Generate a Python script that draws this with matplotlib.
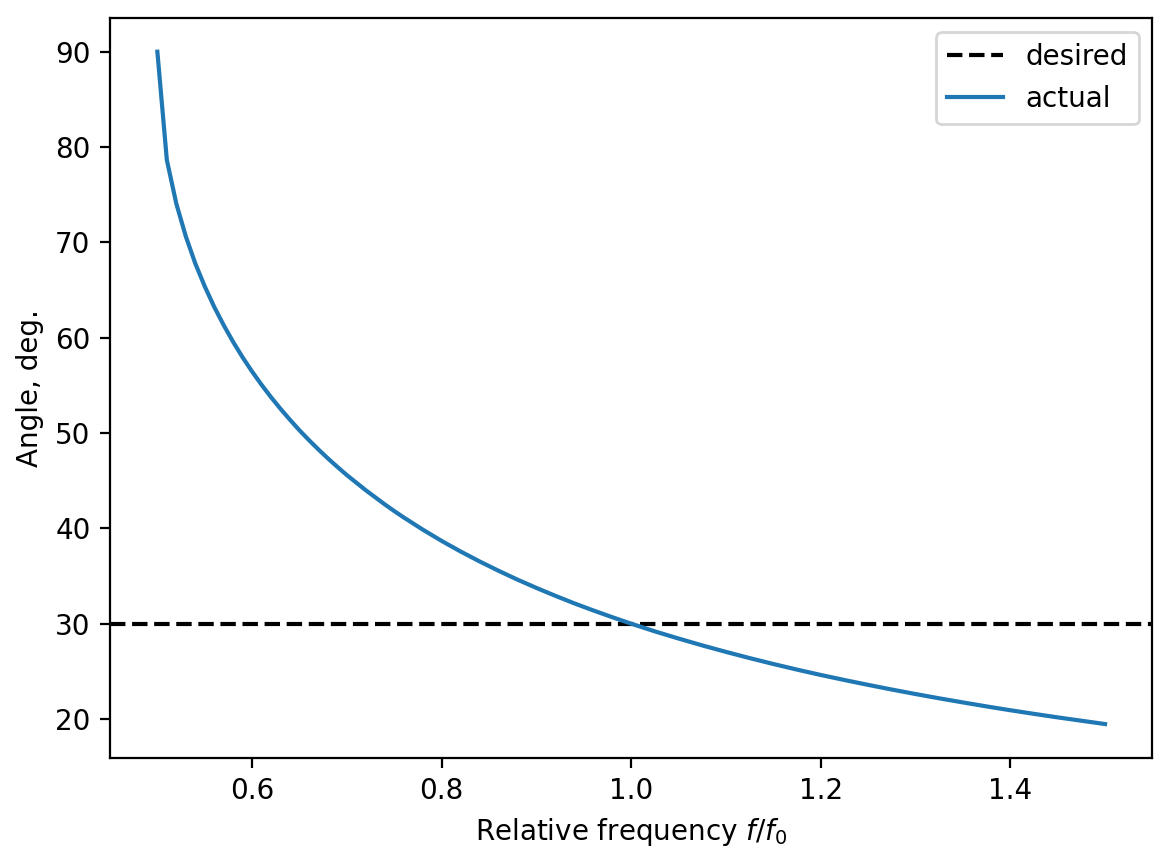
import matplotlib
matplotlib.use("Agg")
import matplotlib.pyplot as plt

# Valores
frecuencia = [0.50, 0.51, 0.52, 0.53, 0.54, 0.55, 0.56, 0.57, 0.58, 0.59,
              0.60, 0.61, 0.62, 0.63, 0.64, 0.65, 0.66, 0.67, 0.68, 0.69,
              0.70, 0.72, 0.74, 0.75, 0.76, 0.78, 0.80, 0.82, 0.84, 0.86,
              0.88, 0.90, 0.92, 0.94, 0.96, 0.98, 1.00, 1.025, 1.05, 1.075,
              1.10, 1.125, 1.15, 1.175, 1.20, 1.225, 1.25, 1.275, 1.30, 1.325,
              1.35, 1.375, 1.40, 1.425, 1.45, 1.475, 1.50]
angulo = [90.0, 78.64, 74.06, 70.63, 67.79, 65.38, 63.23, 61.31, 59.55, 57.93,
          56.44, 55.05, 53.75, 52.53, 51.38, 50.28, 49.25, 48.27, 47.33, 46.44,
          45.58, 43.99, 42.51, 41.81, 41.14, 39.87, 38.68, 37.57, 36.53, 35.55,
          34.62, 33.75, 32.92, 32.13, 31.39, 30.68, 30.00, 29.19, 28.44, 27.72,
          27.04, 26.39, 25.77, 25.18, 24.62, 24.09, 23.58, 23.09, 22.62, 22.17,
          21.74, 21.32, 20.92, 20.54, 20.17, 19.82, 19.47]
angulo_deseado = 30

fig, ax = plt.subplots(figsize=(5.85, 4.305), dpi=200)
ax.axhline(angulo_deseado, color="black", linestyle="--", label="desired")
ax.plot(frecuencia, angulo, color="tab:blue", label="actual")
ax.set_xlabel("Relative frequency $f/f_0$")
ax.set_ylabel("Angle, deg.")
ax.legend(loc="upper right")
fig.subplots_adjust(left=0.094, right=0.985, top=0.979, bottom=0.12)
fig.savefig("out.png", dpi=200)
